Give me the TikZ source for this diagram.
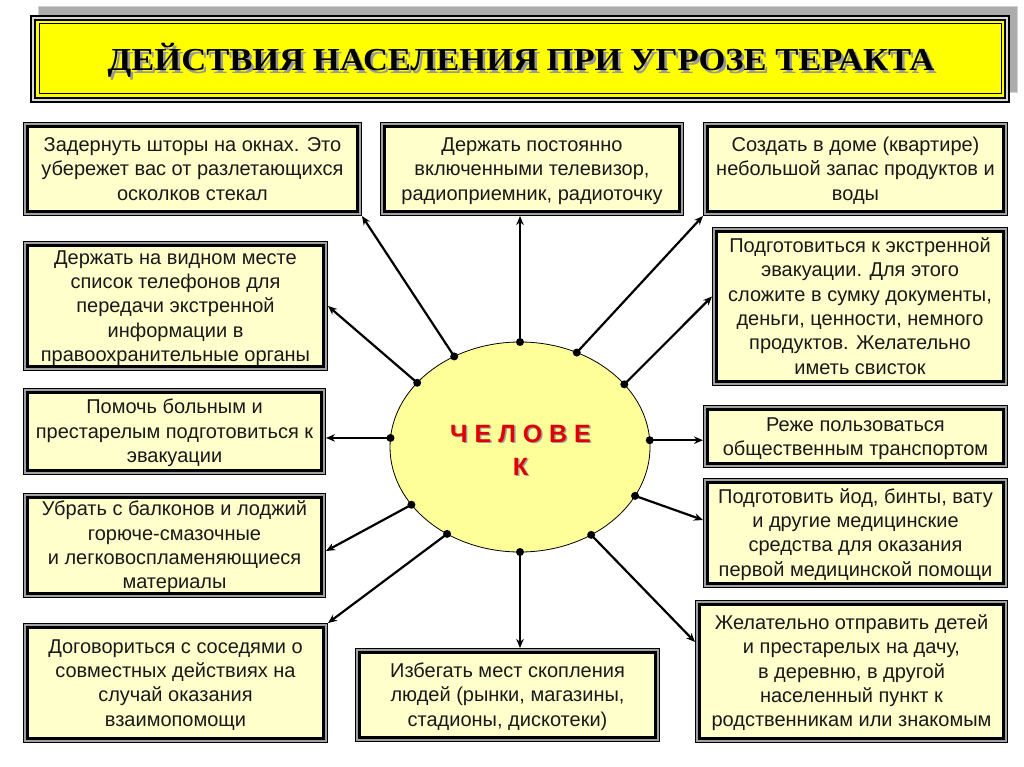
\documentclass[tikz,border=0pt]{standalone}
\usepackage{graphicx}
\usepackage{fontspec}
\setmainfont{Liberation Sans}
\newfontfamily\titlefont{Liberation Serif}
\usetikzlibrary{arrows.meta,shapes.geometric}
\definecolor{boxfill}{HTML}{FFFFCC}
\definecolor{ellfill}{HTML}{FFFF99}
\definecolor{band}{HTML}{A0A0A0}
\definecolor{titley}{HTML}{FFFF00}
\definecolor{manred}{HTML}{E00000}
\newcommand{\ttltext}{\scalebox{1.08}[1]{ДЕЙСТВИЯ НАСЕЛЕНИЯ ПРИ УГРОЗЕ ТЕРАКТА}}
\newcommand{\shd}[3]{\rlap{\kern#3\raisebox{-#3}{\color{#2}#1}}#1}
\newcommand{\topst}{\rule{0pt}{18.5pt}}
\newcommand{\botst}{\rule[-5pt]{0pt}{5pt}}
\begin{document}
\begin{tikzpicture}[x=1pt,y=-1pt,
  ybox/.style={draw=black, line width=3.5pt, fill=boxfill, inner sep=0pt, outer sep=4.5pt,
    align=center, font=\fontsize{20}{24.3}\selectfont, text=black!90,
    preaction={draw=black, line width=9pt}, preaction={draw=band, line width=7pt}},
  conn/.style={line width=2.2pt, -{Stealth[length=9pt,width=7.5pt]}},
  titletext/.style={font=\titlefont\bfseries\fontsize{32}{36}\selectfont},
  mantext/.style={font=\bfseries\fontsize{25}{33}\selectfont, align=center}]
\useasboundingbox[fill=white] (0,0) rectangle (1024,767);
% title
\fill[gray!65, draw=gray!35, line width=1pt] (38,7) rectangle (1017,93);
\draw[line width=2pt, fill=gray!30] (31,16) rectangle (1009,102);
\draw[line width=2.5pt, fill=titley] (35,20) rectangle (1005,98);
\draw[line width=1pt] (39,24) rectangle (1001,94);
\node[titletext, text=black] (title) at (521,62) {\shd{\ttltext}{gray!80}{2.5pt}};
% centre
\node[ellipse, draw=black, line width=0.8pt, fill=ellfill, minimum width=260pt, minimum height=210pt, inner sep=0pt, outer sep=0pt] (man) at (520,447) {};
\node[mantext, text=manred] (mantext) at (520.5,451) {\shd{Ч Е Л О В Е}{gray!75}{1.5pt}\\\shd{К}{gray!75}{1.5pt}};
% boxes
\node[ybox, minimum width=330pt, minimum height=85pt] (b1) at (192.5,169) {\topst Задернуть шторы на окнах. Это\\убережет вас от разлетающихся\\осколков стекал\botst};
\node[ybox, minimum width=295pt, minimum height=85pt] (b2) at (532,169) {\topst Держать постоянно\\включенными телевизор,\\радиоприемник, радиоточку\botst};
\node[ybox, minimum width=296pt, minimum height=85pt] (b3) at (855.5,169) {\topst Создать в доме (квартире)\\небольшой запас продуктов и\\воды\botst};
\node[ybox, minimum width=296pt, minimum height=119pt] (b4) at (175.5,306) {\topst Держать на видном месте\\список телефонов для\\передачи экстренной\\информации в\\правоохранительные органы\botst};
\node[ybox, minimum width=287pt, minimum height=150pt] (b5) at (860,306.5) {\topst Подготовиться к экстренной\\эвакуации. Для этого\\сложите в сумку документы,\\деньги, ценности, немного\\продуктов. Желательно\\иметь свисток\botst};
\node[ybox, minimum width=294pt, minimum height=78pt] (b6) at (174.5,431.5) {\topst Помочь больным и\\престарелым подготовиться к\\эвакуации\botst};
\node[ybox, minimum width=296pt, minimum height=54pt] (b7) at (855.5,436.5) {\topst Реже пользоваться\\общественным транспортом\botst};
\node[ybox, minimum width=294pt, minimum height=92pt] (b8) at (174.5,545.5) {\topst Убрать с балконов и лоджий\\горюче-смазочные\\и легковоспламеняющиеся\\материалы\botst};
\node[ybox, minimum width=296pt, minimum height=101pt] (b9) at (855.5,533) {\topst Подготовить йод, бинты, вату\\и другие медицинские\\средства для оказания\\первой медицинской помощи\botst};
\node[ybox, minimum width=296pt, minimum height=111pt] (b10) at (175.5,683) {\topst Договориться с соседями о\\совместных действиях на\\случай оказания\\взаимопомощи\botst};
\node[ybox, minimum width=296pt, minimum height=85pt] (b11) at (507.5,695) {\topst Избегать мест скопления\\людей (рынки, магазины,\\стадионы, дискотеки)\botst};
\node[ybox, minimum width=304pt, minimum height=134pt] (b12) at (851.5,671.5) {\topst Желательно отправить детей\\и престарелых на дачу,\\в деревню, в другой\\населенный пункт к\\родственникам или знакомым\botst};
% connectors
\draw[conn] (man.126) -- (b1.south east);
\draw[conn] (man.90) -- (man.90 |- b2.south);
\draw[conn] (man.59.3) -- (b3.south west);
\draw[conn] (man.148.6) -- (b4.east);
\draw[conn] (man.31.4) -- ([yshift=10pt]b5.west);
\draw[conn] (man.176.9) -- (man.176.9 -| b6.east);
\draw[conn] (man.3.1) -- (man.3.1 -| b7.west);
\draw[conn] (man.-23.9) -- ([yshift=13pt]b9.west);
\draw[conn] (man.208.5) -- ([yshift=-5.5pt]b8.east);
\draw[conn] (man.230.9) -- (b10.north east);
\draw[conn] (man.270) -- (man.270 |- b11.north);
\draw[conn] (man.309.1) -- ([yshift=29.5pt]b12.west);
\foreach \a in {126,90,59.3,148.6,31.4,176.9,3.1,-23.9,208.5,230.9,270,309.1}
  \fill (man.\a) circle (4pt);
\end{tikzpicture}
\end{document}
